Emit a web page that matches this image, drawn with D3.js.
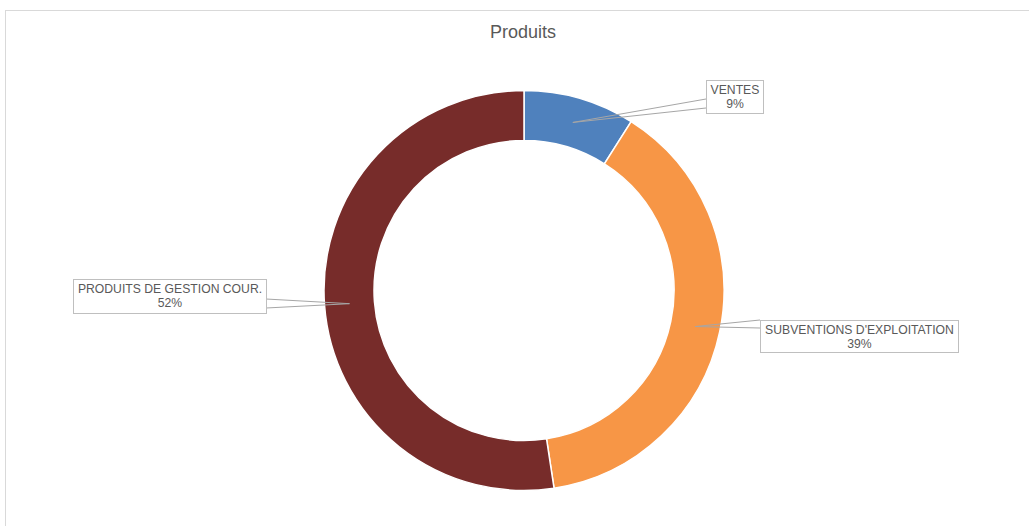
<!DOCTYPE html>
<html>
<head>
<meta charset="utf-8">
<script src="https://cdn.jsdelivr.net/npm/d3@7"></script>
<style>
  body { margin: 0; background: #fff; }
  text { font-family: "Liberation Sans", Arial, sans-serif; fill: #595959; }
</style>
</head>
<body>
<div id="chart"></div>
<script>
// data (percent shares)
var categories = ["VENTES", "SUBVENTIONS D'EXPLOITATION", "PRODUITS DE GESTION COUR."];
var values = [9.0, 38.6, 52.4];
var pctLabels = ["9%", "39%", "52%"];
var colors = ["#4F81BD", "#F79646", "#772C2A"];

var svgWidth = 1029, svgHeight = 526;
var cx = 524, cy = 290.5;
var outerR = 200, innerR = 150;

var svg = d3.select("#chart")
  .append("svg")
  .attr("width", svgWidth)
  .attr("height", svgHeight);

// chart frame
svg.append("rect")
  .attr("x", 5.5).attr("y", 10.5)
  .attr("width", 1100).attr("height", 600)
  .attr("fill", "#fff")
  .attr("stroke", "#d9d9d9");

svg.append("text")
  .attr("x", 523).attr("y", 38)
  .attr("text-anchor", "middle")
  .attr("font-size", "18px")
  .text("Produits");

var pie = d3.pie().sort(null).value(d => d);
var arcs = pie(values);

var arc = d3.arc().innerRadius(innerR).outerRadius(outerR);
var midArc = d3.arc().innerRadius(175).outerRadius(175);

var g = svg.append("g").attr("transform", `translate(${cx}, ${cy})`);

g.selectAll("path.slice")
  .data(arcs)
  .enter()
  .append("path")
  .attr("class", "slice")
  .attr("d", arc)
  .attr("fill", (d, i) => colors[i])
  .attr("stroke", "#fff")
  .attr("stroke-width", 1.5);

// label boxes (layout, not data): box rect and where the leader meets it
var boxes = [
  {x: 706, y: 80, w: 57, h: 33, a1: [706, 99], a2: [706, 108]},
  {x: 760, y: 320, w: 198, h: 32, a1: [760, 320], a2: [760, 328]},
  {x: 73, y: 279, w: 193, h: 34, a1: [266, 299], a2: [266, 308]}
];

var labels = svg.append("g");

arcs.forEach(function(d, i) {
  var b = boxes[i];
  var c = midArc.centroid(d);
  var p = [cx + c[0], cy + c[1]];
  labels.append("path")
    .attr("d", `M${p[0]},${p[1]}L${b.a1[0]},${b.a1[1]}M${p[0]},${p[1]}L${b.a2[0]},${b.a2[1]}`)
    .attr("fill", "none")
    .attr("stroke", "#a6a6a6")
    .attr("stroke-width", 1);
  labels.append("rect")
    .attr("x", b.x + 0.5).attr("y", b.y + 0.5)
    .attr("width", b.w).attr("height", b.h)
    .attr("fill", "#fff")
    .attr("stroke", "#bfbfbf");
  labels.append("text")
    .attr("x", b.x + b.w / 2 + 0.5).attr("y", b.y + 14)
    .attr("text-anchor", "middle")
    .attr("font-size", "12.2px")
    .text(categories[i]);
  labels.append("text")
    .attr("x", b.x + b.w / 2 + 0.5).attr("y", b.y + 28)
    .attr("text-anchor", "middle")
    .attr("font-size", "12.2px")
    .text(pctLabels[i]);
});
</script>
</body>
</html>
